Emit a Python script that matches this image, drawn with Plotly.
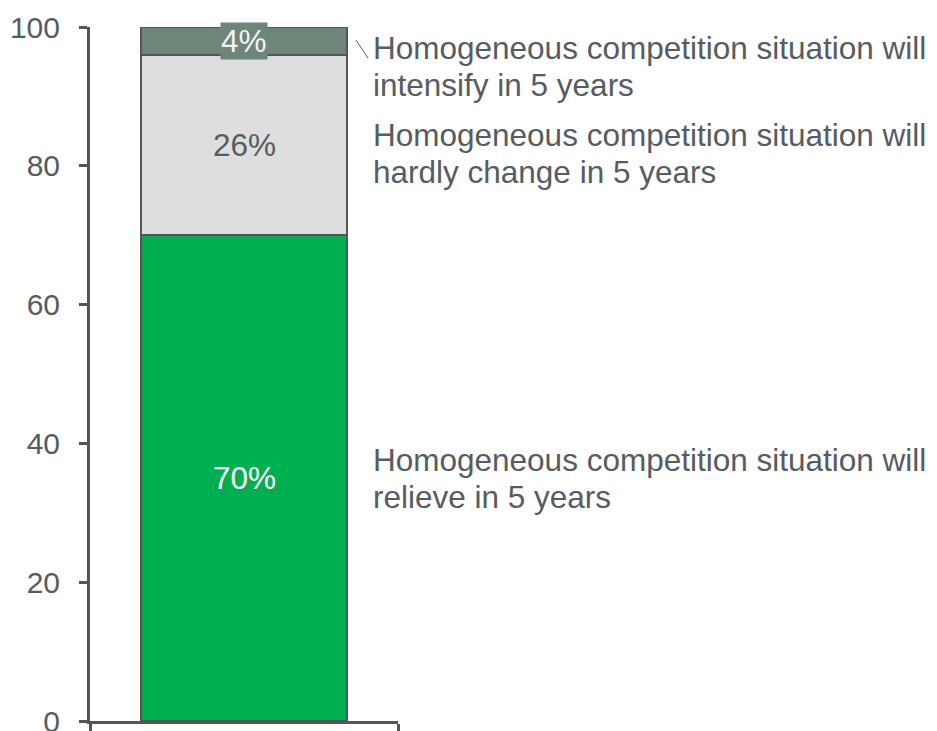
import plotly.graph_objects as go

# ---------------------------------------------------------------------------
# Data
# ---------------------------------------------------------------------------
segments = [
    ['Homogeneous competition situation will', 'relieve in 5 years'],
    ['Homogeneous competition situation will', 'hardly change in 5 years'],
    ['Homogeneous competition situation will', 'intensify in 5 years'],
]
shares = [70, 26, 4]
seg_colors = ['#00B050', '#DEDEDE', '#6E8579']
value_font_colors = ['white', '#555C62', '#F2F2F2']
y_ticks = [0, 20, 40, 60, 80, 100]

TEXT = '#555C62'
LINE = '#555555'
FONT = 'Liberation Sans, Arial, sans-serif'

fig = go.Figure()
for lines, val, col in zip(segments, shares, seg_colors):
    fig.add_trace(go.Bar(
        x=[0], y=[val], name=' '.join(lines), width=0.667,
        marker=dict(color=col, line=dict(color=LINE, width=2)),
        showlegend=False, hoverinfo='skip',
    ))

# value labels inside the bar + category labels on the right
annotations = []
label_shift = [0, -9, -26]
line_gap = 18.5
base = 0
for i, (lines, val) in enumerate(zip(segments, shares)):
    mid = base + val / 2
    base += val
    ann = dict(
        x=0, y=mid, xref='x', yref='y', text=f'{val}%', showarrow=False,
        font=dict(size=31.5, color=value_font_colors[i], family=FONT),
    )
    if i == 2:
        ann.update(bgcolor=seg_colors[i], borderpad=0)
    annotations.append(ann)
    for k, txt in enumerate(lines):
        annotations.append(dict(
            x=0.912, y=mid, xref='paper', yref='y',
            yshift=label_shift[i] + line_gap * (1 - 2 * k),
            text=txt, showarrow=False, xanchor='left', yanchor='middle',
            font=dict(size=31.5, color=TEXT, family=FONT),
        ))

# page body adds an 8px margin, so the figure is 8px smaller than the window
fig.update_layout(
    width=929, height=723,
    barmode='stack',
    plot_bgcolor='white', paper_bgcolor='white',
    margin=dict(l=82, r=539, t=19, b=10),
    font=dict(family=FONT, color=TEXT, size=30),
    annotations=annotations,
    shapes=[dict(
        type='line', xref='paper', yref='y',
        x0=0.864, y0=98.1, x1=0.903, y1=95.5,
        line=dict(color=TEXT, width=1),
    )],
    xaxis=dict(
        range=[-0.5, 0.5], tickvals=[-0.5, 0.5], showticklabels=False,
        ticks='outside', ticklen=10, tickwidth=3, tickcolor=LINE,
        showline=True, linecolor=LINE, linewidth=3,
        showgrid=False, zeroline=False, automargin=False,
    ),
    yaxis=dict(
        range=[0, 100], tickvals=y_ticks,
        ticks='outside', ticklen=8, tickwidth=3, tickcolor=LINE,
        showline=True, linecolor=LINE, linewidth=3,
        showgrid=False, zeroline=False, automargin=False,
        tickfont=dict(size=30, color=TEXT, family=FONT),
        ticklabelstandoff=13, ticklabeloverflow='allow',
    ),
)

fig.write_html("out.html")
